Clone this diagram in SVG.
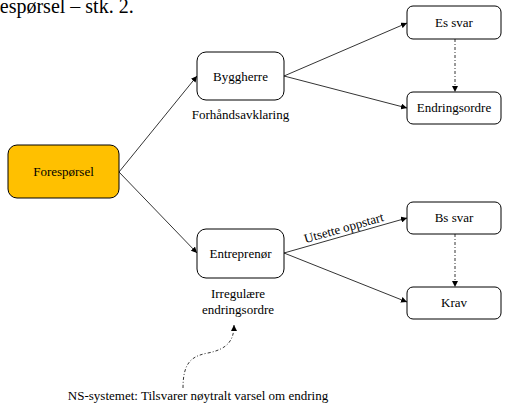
<svg xmlns="http://www.w3.org/2000/svg" width="505" height="405" viewBox="0 0 505 405" font-family="'Liberation Serif', 'Times New Roman', serif">
<defs>
<style>
text{font-family:'Liberation Serif','Times New Roman',serif}
.box{fill:#fff;stroke:#000;stroke-width:1}
.t{font-size:13px;fill:#000;text-anchor:middle}
.ln{fill:none;stroke:#000;stroke-width:0.8}
.dd{fill:none;stroke:#000;stroke-width:0.8;stroke-dasharray:3 2 1 2}
</style>
<marker id="ah" viewBox="0 0 10 10" refX="10" refY="5" markerWidth="6" markerHeight="6" orient="auto" markerUnits="userSpaceOnUse">
<path d="M0,0 L10,5 L0,10 z" fill="#000"/>
</marker>
</defs>
<rect width="505" height="405" fill="#fff"/>
<text x="-28" y="13" font-size="20" fill="#000">Forespørsel – stk. 2.</text>
<g id="connectors">
<line class="ln" x1="119" y1="172" x2="197" y2="76" marker-end="url(#ah)"/>
<line class="ln" x1="119" y1="172" x2="197" y2="253" marker-end="url(#ah)"/>
<line class="ln" x1="284" y1="76" x2="407" y2="23" marker-end="url(#ah)"/>
<line class="ln" x1="284" y1="76" x2="407" y2="108" marker-end="url(#ah)"/>
<line class="ln" x1="284" y1="253" x2="407" y2="218" marker-end="url(#ah)"/>
<line class="ln" x1="284" y1="253" x2="407" y2="302" marker-end="url(#ah)"/>
<line class="dd" x1="455" y1="39" x2="455" y2="92" marker-end="url(#ah)"/>
<line class="dd" x1="455" y1="234" x2="455" y2="287" marker-end="url(#ah)"/>
<path class="dd" d="M183,388 C183,362 192,356 208,353 C228,349 234,340 234,325" marker-end="url(#ah)"/>
<text class="t" x="345" y="232" transform="rotate(-15.8 345 232)">Utsette oppstart</text>
</g>
<g id="forespoersel">
<rect x="8" y="145" width="111" height="53" rx="9" fill="#FFC000" stroke="#000" stroke-width="1"/>
<text class="t" x="63.5" y="176">Forespørsel</text>
</g>
<g id="byggherre">
<rect class="box" x="197" y="52" width="87" height="48" rx="9"/>
<text class="t" x="240.5" y="81">Byggherre</text>
<text class="t" x="240.5" y="119">Forhåndsavklaring</text>
</g>
<g id="entreprenor">
<rect class="box" x="197" y="229" width="87" height="49" rx="9"/>
<text class="t" x="240.5" y="258">Entreprenør</text>
<text class="t" x="238" y="298">Irregulære</text>
<text class="t" x="238" y="314">endringsordre</text>
</g>
<g id="es-svar">
<rect class="box" x="407" y="6" width="94" height="33" rx="6"/>
<text class="t" x="454" y="27">Es svar</text>
</g>
<g id="endringsordre">
<rect class="box" x="407" y="92" width="94" height="32" rx="6"/>
<text class="t" x="454" y="112">Endringsordre</text>
</g>
<g id="bs-svar">
<rect class="box" x="407" y="202" width="94" height="32" rx="6"/>
<text class="t" x="454" y="222">Bs svar</text>
</g>
<g id="krav">
<rect class="box" x="407" y="287" width="94" height="32" rx="6"/>
<text class="t" x="454" y="307">Krav</text>
</g>
<text class="t" x="198" y="400">NS-systemet: Tilsvarer nøytralt varsel om endring</text>
</svg>
